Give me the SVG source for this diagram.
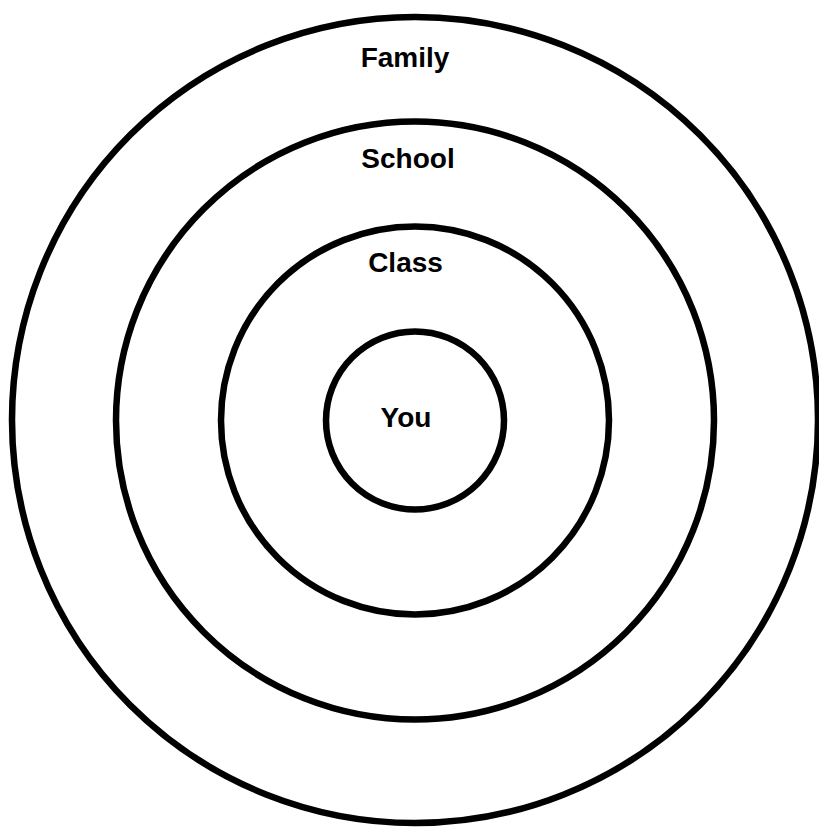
<svg xmlns="http://www.w3.org/2000/svg" width="819" height="829" viewBox="0 0 819 829">
<style>
.ring{fill:none;stroke:#000;stroke-width:6.5}
.lbl{font-family:"Liberation Sans",Arial,sans-serif;font-weight:bold;font-size:28px;fill:#000;text-anchor:middle}
</style>
<rect width="819" height="829" fill="#fff"/>
<g id="family"><circle class="ring" cx="415" cy="420" r="403"/><text class="lbl" x="405" y="67">Family</text></g>
<g id="school"><circle class="ring" cx="415" cy="420.5" r="299"/><text class="lbl" x="408" y="168">School</text></g>
<g id="class"><circle class="ring" cx="415" cy="420.5" r="194"/><text class="lbl" x="405.5" y="272">Class</text></g>
<g id="you"><circle class="ring" cx="415" cy="420.5" r="89"/><text class="lbl" x="406" y="427">You</text></g>
<g id="connectors"></g>
</svg>
